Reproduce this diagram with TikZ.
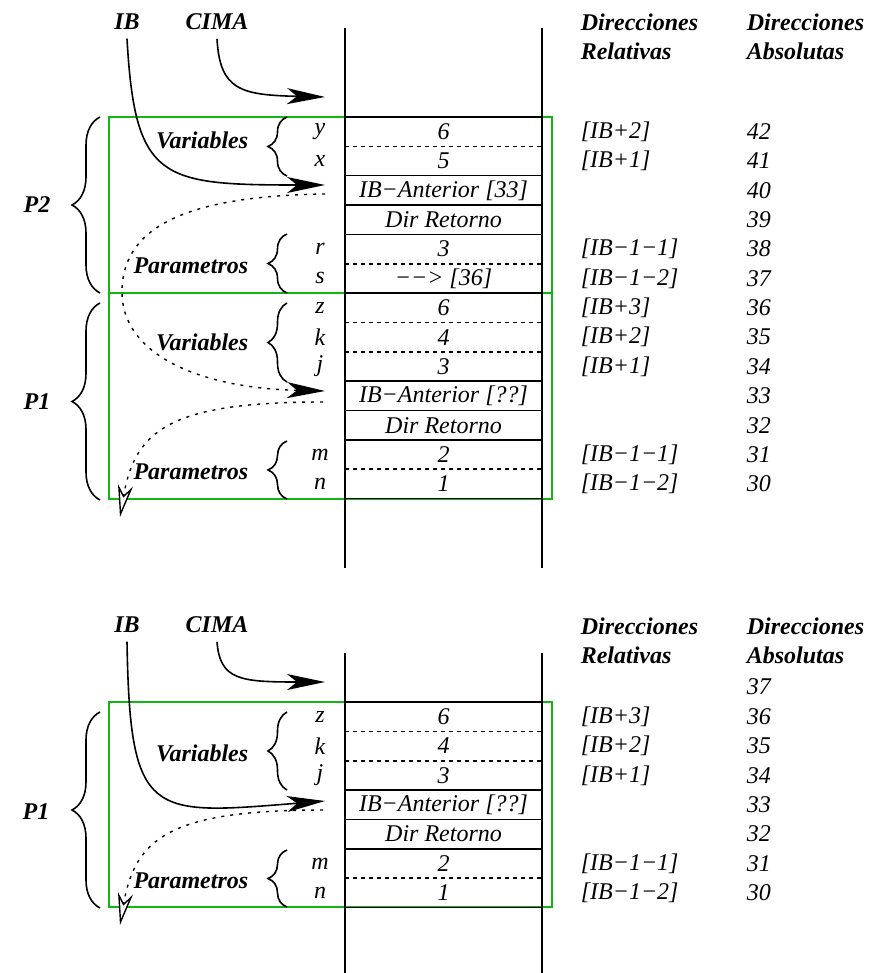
\documentclass[tikz,border=0pt]{standalone}
\usepackage{fontspec}
\setmainfont{Liberation Serif}
\usetikzlibrary{arrows.meta,decorations.pathreplacing}
\definecolor{verdemarco}{RGB}{20,180,20}
\tikzset{
    etiq/.style={font=\bfseries\itshape},
    rayas/.style={dash pattern=on 2pt off 2pt},
    llave/.style={decorate,decoration={brace,amplitude=#1},line width=0.8pt},
    flecha/.style={-{Stealth[length=19pt,width=8pt,inset=5pt]}},
    punteada/.style={dash pattern=on 1.5pt off 3pt,line width=0.7pt},
    abierta/.style={punteada,-{Stealth[open,length=16pt,width=7.5pt,inset=5pt,fill=white]}}
}
\begin{document}
\fontsize{12}{14.5}\selectfont
\begin{tikzpicture}[x=0.5pt,y=-0.5pt,font=\itshape,line width=0.8pt]
    \useasboundingbox (0,0) rectangle (878,973);
    % pila de arriba
    \draw[verdemarco] (109,117) rectangle (552,293);
    \draw[verdemarco] (109,293) rectangle (552,499);
    \draw (345,28) -- (345,568);
    \draw (542,28) -- (542,568);
    \draw (345,117) -- (542,117);
    \foreach \k/\vnom/\valor/\drel/\dabs/\linea in {
        0/y/6/{[IB+2]}/42/rayas,
        1/x/5/{[IB+1]}/41/solid,
        2/{}/{IB−Anterior [33]}/{}/40/solid,
        3/{}/{Dir Retorno}/{}/39/solid,
        4/r/3/{[IB−1−1]}/38/rayas,
        5/s/{−−> [36]}/{[IB−1−2]}/37/solid,
        6/z/6/{[IB+3]}/36/rayas,
        7/k/4/{[IB+2]}/35/rayas,
        8/j/3/{[IB+1]}/34/solid,
        9/{}/{IB−Anterior [??]}/{}/33/solid,
        10/{}/{Dir Retorno}/{}/32/solid,
        11/m/2/{[IB−1−1]}/31/rayas,
        12/n/1/{[IB−1−2]}/30/solid} {
        \pgfmathsetmacro{\yc}{117+29.35*\k+14.7}
        \pgfmathsetmacro{\yb}{117+29.35*(\k+1)}
        \draw[\linea] (345,\yb) -- (542,\yb);
        \node (a\k) at (443.5,\yc) {\valor};
        \node (va\k) at (320,\yc) {\vnom};
        \node[anchor=west] (ra\k) at (572,\yc) {\drel};
        \node[anchor=west] (da\k) at (738,\yc) {\dabs};
    }
    \node[etiq] (ib1) at (127,22) {IB};
    \node[etiq] (cima1) at (217,22) {CIMA};
    \node[etiq,align=left,anchor=west] (rel1) at (572,37) {Direcciones\\Relativas};
    \node[etiq,align=left,anchor=west] (abs1) at (738,37) {Direcciones\\Absolutas};
    % llaves de arriba
    \draw[llave=14pt] (100,293) -- (100,117);
    \draw[llave=14pt] (100,500) -- (100,303);
    \node[etiq] (p2) at (37,205) {P2};
    \node[etiq] (p1a) at (37,402) {P1};
    \draw[llave=9.5pt] (287,176) -- (287,117);
    \draw[llave=9.5pt] (287,293) -- (287,234);
    \draw[llave=9.5pt] (287,382) -- (287,303);
    \draw[llave=9.5pt] (287,499) -- (287,441);
    \node[etiq,anchor=east] (var1) at (257,140) {Variables};
    \node[etiq,anchor=east] (par1) at (257,266) {Parametros};
    \node[etiq,anchor=east] (var2) at (257,342) {Variables};
    \node[etiq,anchor=east] (par2) at (257,472) {Parametros};
    % flechas de arriba
    \coordinate (cim1) at (325,97);
    \coordinate (ant1) at (325,185);
    \coordinate (sal1) at (325,194);
    \coordinate (ant2) at (325,391);
    \coordinate (sal2) at (323,402);
    \coordinate (fin1) at (120,517);
    \draw[flecha] (cima1.south) .. controls (220,90) and (240,95) .. (cim1);
    \draw[flecha] (ib1.south) .. controls (135,180) and (160,185) .. (ant1);
    \draw[punteada,flecha] (sal1) .. controls (180,196) and (122,230) .. (122,292)
        .. controls (122,355) and (200,388) .. (ant2);
    \draw[abierta] (sal2) .. controls (170,402) and (135,430) .. (fin1);

    % pila de abajo
    \draw[verdemarco] (109,702) rectangle (552,907);
    \draw (345,653) -- (345,973);
    \draw (542,653) -- (542,973);
    \draw (345,702) -- (542,702);
    \foreach \k/\vnom/\valor/\drel/\dabs/\linea in {
        0/z/6/{[IB+3]}/36/rayas,
        1/k/4/{[IB+2]}/35/rayas,
        2/j/3/{[IB+1]}/34/solid,
        3/{}/{IB−Anterior [??]}/{}/33/solid,
        4/{}/{Dir Retorno}/{}/32/solid,
        5/m/2/{[IB−1−1]}/31/rayas,
        6/n/1/{[IB−1−2]}/30/solid} {
        \pgfmathsetmacro{\yc}{702+29.35*\k+14.7}
        \pgfmathsetmacro{\yb}{702+29.35*(\k+1)}
        \draw[\linea] (345,\yb) -- (542,\yb);
        \node (b\k) at (443.5,\yc) {\valor};
        \node (vb\k) at (320,\yc) {\vnom};
        \node[anchor=west] (rb\k) at (572,\yc) {\drel};
        \node[anchor=west] (db\k) at (738,\yc) {\dabs};
    }
    \node[anchor=west] (dbtope) at (738,687) {37};
    \node[etiq] (ib2) at (127,625) {IB};
    \node[etiq] (cima2) at (217,625) {CIMA};
    \node[etiq,align=left,anchor=west] (rel2) at (572,641) {Direcciones\\Relativas};
    \node[etiq,align=left,anchor=west] (abs2) at (738,641) {Direcciones\\Absolutas};
    % llaves de abajo
    \draw[llave=14pt] (100,908) -- (100,712);
    \node[etiq] (p1b) at (36,812) {P1};
    \draw[llave=9.5pt] (287,790) -- (287,712);
    \draw[llave=9.5pt] (287,907) -- (287,850);
    \node[etiq,anchor=east] (var3) at (257,753) {Variables};
    \node[etiq,anchor=east] (par3) at (257,881) {Parametros};
    % flechas de abajo
    \coordinate (cim2) at (325,682);
    \coordinate (ant3) at (325,801);
    \coordinate (sal3) at (323,810);
    \coordinate (fin2) at (120,925);
    \draw[flecha] (cima2.south) .. controls (220,680) and (240,682) .. (cim2);
    \draw[flecha] (ib2.south) .. controls (130,820) and (150,815) .. (ant3);
    \draw[abierta] (sal3) .. controls (170,810) and (135,838) .. (fin2);
\end{tikzpicture}
\end{document}
